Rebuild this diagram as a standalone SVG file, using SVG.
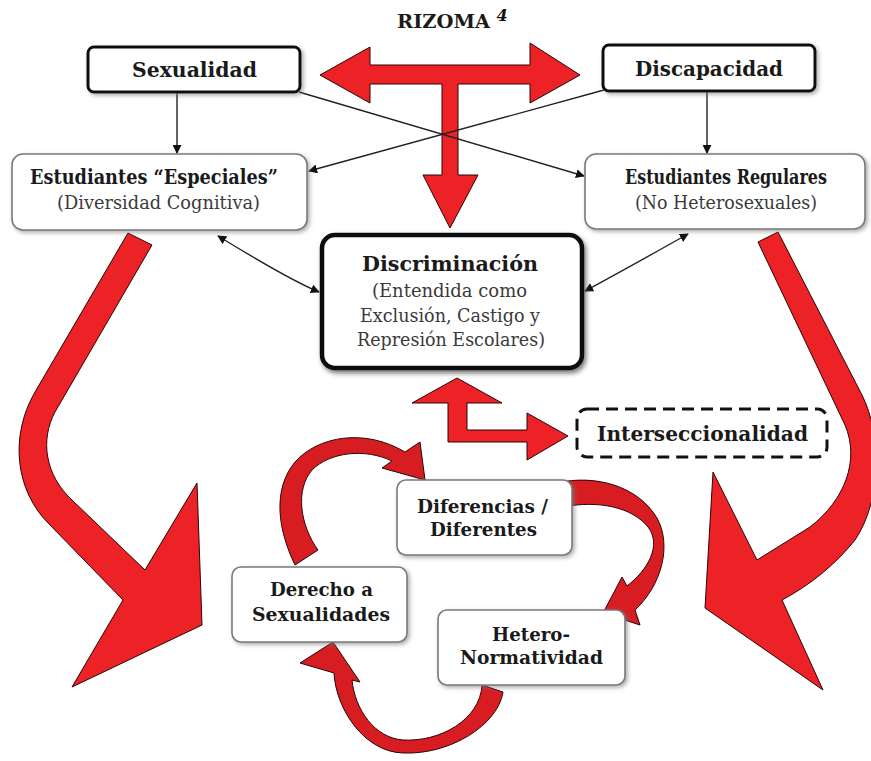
<svg xmlns="http://www.w3.org/2000/svg" width="871" height="761" viewBox="0 0 871 761">
<defs>
<style>
.t{font-family:"DejaVu Serif","Liberation Serif",serif;font-weight:bold;fill:#1a1a1a;text-anchor:middle}
.s{font-family:"DejaVu Serif","Liberation Serif",serif;font-weight:normal;fill:#3a3a3a;text-anchor:middle}
.bx{fill:#fff;stroke:#111;stroke-width:3}
.lt{fill:#fff;stroke:#7a7a7a;stroke-width:1.6}
.red{fill:#ec2227;stroke:#2a0505;stroke-width:1;stroke-linejoin:miter}
.dred{fill:#d81d22;stroke:#2a0505;stroke-width:1}
.ln{fill:none;stroke:#222;stroke-width:1.4}
</style>
<marker id="ah" viewBox="0 0 10 10" refX="9" refY="5" markerWidth="9" markerHeight="9" markerUnits="userSpaceOnUse" orient="auto-start-reverse">
<path d="M0,0 L10,5 L0,10 z" fill="#111"/>
</marker>
<filter id="sh" x="-10%" y="-20%" width="130%" height="150%">
<feDropShadow dx="2" dy="2" stdDeviation="2" flood-color="#777" flood-opacity="0.6"/>
</filter>
<filter id="sh2" x="-10%" y="-10%" width="130%" height="130%">
<feDropShadow dx="2" dy="3" stdDeviation="2.5" flood-color="#555" flood-opacity="0.8"/>
</filter>
</defs>
<rect width="871" height="761" fill="#fff"/>

<g id="rizoma-title">
<text class="t" x="443.5" y="28" font-size="19" textLength="93" lengthAdjust="spacingAndGlyphs">RIZOMA</text>
<text x="502" y="21" font-family="DejaVu Serif, serif" font-weight="bold" font-style="italic" font-size="16" fill="#111" text-anchor="middle">4</text>
</g>

<g id="connectors">
<path class="red" d="M320,75 L370,47 L370,65 L530,65 L530,43 L580,75 L530,103 L530,84 L458,84 L458,175 L478,175 L450,228 L423,175 L442,175 L442,84 L370,84 L370,103 Z"/>
<path class="ln" d="M177,93 L177,153" marker-end="url(#ah)"/>
<path class="ln" d="M707,92 L707,153" marker-end="url(#ah)"/>
<path class="ln" d="M299,92 L584,176" marker-end="url(#ah)"/>
<path class="ln" d="M604,90 L309,171" marker-end="url(#ah)"/>
<path class="ln" d="M218,236 Q290,280 319,292" marker-start="url(#ah)" marker-end="url(#ah)"/>
<path class="ln" d="M688,234 Q615,275 585,291" marker-start="url(#ah)" marker-end="url(#ah)"/>
<path class="red" d="M128,233 L35,392 C10,435 14,490 50,525 L123,600 L72,687 L202,625 L197,483 L145,570 L72,500 C45,475 40,440 55,412 L152,245 Z"/>
<path class="red" d="M778,232 L862,395 C882,435 882,500 855,540 C835,565 810,585 782,600 L823,690 L705,608 L713,472 L757,560 L810,527 C845,500 860,460 845,425 L758,242 Z"/>
<path class="red" d="M457,378 L502,403 L467,403 L467,430 L527,430 L527,413 L568,436 L527,460 L527,442 L448,442 L448,403 L412,403 Z"/>
<path class="dred" d="M295,565 C278,530 272,490 295,462 C318,436 365,428 405,452 L420,442 L425,480 L382,468 L392,461 C365,448 330,452 312,470 C295,490 300,525 318,550 Z"/>
<path class="dred" d="M557,483 C595,474 638,486 657,518 C672,545 662,585 635,610 L640,625 L603,613 L622,577 L627,586 C648,570 662,545 648,527 C632,507 598,500 563,507 Z"/>
<path class="dred" d="M482,685 C480,720 440,742 403,740 C375,738 355,710 352,680 L360,682 L333,642 L300,663 L334,673 C336,710 365,752 403,753 C450,755 498,725 503,692 Z"/>
</g>

<g id="sexualidad">
<rect class="bx" x="88" y="47" width="212" height="45" rx="6" filter="url(#sh)"/>
<text class="t" x="194.5" y="77" font-size="21" textLength="125" lengthAdjust="spacingAndGlyphs">Sexualidad</text>
</g>

<g id="discapacidad">
<rect class="bx" x="603" y="45" width="212" height="46" rx="6" filter="url(#sh)"/>
<text class="t" x="709" y="76" font-size="21" textLength="148" lengthAdjust="spacingAndGlyphs">Discapacidad</text>
</g>

<g id="especiales">
<rect class="lt" x="12" y="154" width="295" height="76" rx="11" filter="url(#sh)"/>
<text class="t" x="154" y="184" font-size="19.5" textLength="248" lengthAdjust="spacingAndGlyphs">Estudiantes “Especiales”</text>
<text class="s" x="158.5" y="209" font-size="18" textLength="203" lengthAdjust="spacingAndGlyphs">(Diversidad Cognitiva)</text>
</g>

<g id="regulares">
<rect class="lt" x="585" y="154" width="280" height="75" rx="11" filter="url(#sh)"/>
<text class="t" x="726" y="184" font-size="19.5" textLength="202" lengthAdjust="spacingAndGlyphs">Estudiantes Regulares</text>
<text class="s" x="726" y="209" font-size="18" textLength="182" lengthAdjust="spacingAndGlyphs">(No Heterosexuales)</text>
</g>

<g id="discriminacion">
<rect x="322" y="235" width="260" height="133" rx="13" fill="#fff" stroke="#111" stroke-width="4.5" filter="url(#sh2)"/>
<text class="t" x="450" y="271" font-size="20.5" textLength="176" lengthAdjust="spacingAndGlyphs">Discriminación</text>
<text class="s" x="449.5" y="297" font-size="18" textLength="155" lengthAdjust="spacingAndGlyphs">(Entendida como</text>
<text class="s" x="450" y="322" font-size="18" textLength="180" lengthAdjust="spacingAndGlyphs">Exclusión, Castigo y</text>
<text class="s" x="451" y="346" font-size="18" textLength="188" lengthAdjust="spacingAndGlyphs">Represión Escolares)</text>
</g>

<g id="interseccionalidad">
<rect x="577" y="409" width="250" height="48" rx="10" fill="#fff" stroke="#111" stroke-width="3" stroke-dasharray="12 7"/>
<text class="t" x="702.5" y="441" font-size="20.5" textLength="211" lengthAdjust="spacingAndGlyphs">Interseccionalidad</text>
</g>

<g id="diferencias">
<rect class="lt" x="397" y="480" width="175" height="75" rx="9" filter="url(#sh)"/>
<text class="t" x="482.5" y="513" font-size="18.5" textLength="131" lengthAdjust="spacingAndGlyphs">Diferencias /</text>
<text class="t" x="483.5" y="536" font-size="18.5" textLength="107" lengthAdjust="spacingAndGlyphs">Diferentes</text>
</g>

<g id="derecho">
<rect class="lt" x="232" y="567" width="175" height="75" rx="9" filter="url(#sh)"/>
<text class="t" x="321.5" y="596" font-size="18.5" textLength="103" lengthAdjust="spacingAndGlyphs">Derecho a</text>
<text class="t" x="321" y="621" font-size="18.5" textLength="138" lengthAdjust="spacingAndGlyphs">Sexualidades</text>
</g>

<g id="heteronormatividad">
<rect class="lt" x="438" y="610" width="187" height="75" rx="9" filter="url(#sh)"/>
<text class="t" x="531" y="641" font-size="18.5" textLength="78" lengthAdjust="spacingAndGlyphs">Hetero-</text>
<text class="t" x="531.5" y="664" font-size="18.5" textLength="143" lengthAdjust="spacingAndGlyphs">Normatividad</text>
</g>
</svg>
